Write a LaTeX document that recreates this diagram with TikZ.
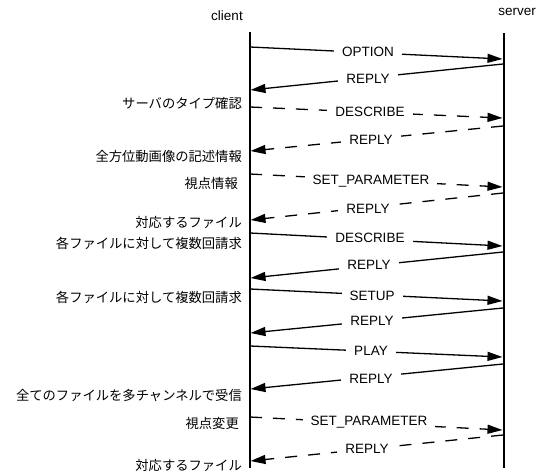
\documentclass[tikz,border=0pt]{standalone}
\usepackage{fontspec}
\setmainfont{Liberation Sans}
\newfontfamily\jpfont{Noto Sans CJK JP}
\usetikzlibrary{arrows.meta}
\begin{document}
\begin{tikzpicture}[x=1pt,y=-1pt,
  life/.style={line width=2pt},
  msg/.style={line width=1.3pt,-{Triangle[length=15pt,width=9pt]}},
  dmsg/.style={msg,dash pattern=on 12pt off 11pt},
  lbl/.style={fill=white,inner xsep=8pt,inner ysep=1pt,font=\fontsize{13.5}{15}\selectfont},
  note/.style={anchor=east,inner sep=0pt,font=\jpfont\fontsize{13.3}{15}\selectfont},
  head/.style={font=\fontsize{13.5}{15}\selectfont}]
\useasboundingbox (0,0) rectangle (540,472);
% lifelines
\coordinate (ctop) at (249.5,32);
\coordinate (cbot) at (249.5,468);
\coordinate (stop) at (503.5,33);
\coordinate (sbot) at (503.5,468);
\draw[life] (ctop) -- (cbot);
\draw[life] (stop) -- (sbot);
\node[head] (client) at (227,16) {client};
\node[head] (server) at (517,12) {server};
% endpoints
\coordinate (c1) at (250,47);  \coordinate (s1) at (502.5,59);
\coordinate (s2) at (503,64);  \coordinate (c2) at (250.5,90);
\coordinate (c3) at (250,107); \coordinate (s3) at (502.5,118);
\coordinate (s4) at (503,126); \coordinate (c4) at (250.5,151);
\coordinate (c5) at (250,174); \coordinate (s5) at (502.5,187);
\coordinate (s6) at (503,193); \coordinate (c6) at (250.5,220);
\coordinate (c7) at (250,233); \coordinate (s7) at (502.5,246);
\coordinate (s8) at (503,252); \coordinate (c8) at (250.5,278);
\coordinate (c9) at (250,289); \coordinate (s9) at (502.5,301);
\coordinate (s10) at (503,308); \coordinate (c10) at (250.5,333);
\coordinate (c11) at (250,346); \coordinate (s11) at (502.5,357);
\coordinate (s12) at (503,364); \coordinate (c12) at (250.5,389);
\coordinate (c13) at (250,417); \coordinate (s13) at (502.5,430);
\coordinate (s14) at (503,435); \coordinate (c14) at (250.5,461);
% messages
\draw[msg] (c1) -- (s1);   \node[lbl] (m1) at (368,52) {OPTION};
\draw[msg] (s2) -- (c2);   \node[lbl] (m2) at (368,79) {REPLY};
\draw[dmsg] (c3) -- (s3);  \node[lbl] (m3) at (370,112) {DESCRIBE};
\draw[dmsg] (s4) -- (c4);  \node[lbl] (m4) at (371,140) {REPLY};
\draw[dmsg] (c5) -- (s5);  \node[lbl] (m5) at (371,181) {SET\_PARAMETER};
\draw[dmsg] (s6) -- (c6);  \node[lbl] (m6) at (368,209) {REPLY};
\draw[msg] (c7) -- (s7);   \node[lbl] (m7) at (370,238) {DESCRIBE};
\draw[msg] (s8) -- (c8);   \node[lbl] (m8) at (369,265) {REPLY};
\draw[msg] (c9) -- (s9);   \node[lbl] (m9) at (372,296) {SETUP};
\draw[msg] (s10) -- (c10); \node[lbl] (m10) at (372,321) {REPLY};
\draw[msg] (c11) -- (s11); \node[lbl] (m11) at (371,351) {PLAY};
\draw[msg] (s12) -- (c12); \node[lbl] (m12) at (371,379) {REPLY};
\draw[dmsg] (c13) -- (s13); \node[lbl] (m13) at (369,422) {SET\_PARAMETER};
\draw[dmsg] (s14) -- (c14); \node[lbl] (m14) at (367,449) {REPLY};
% notes
\node[note] (n1) at (242,103) {サーバのタイプ確認};
\node[note] (n2) at (242,156) {全方位動画像の記述情報};
\node[note] (n3) at (238,183) {視点情報};
\node[note] (n4) at (242,222) {対応するファイル};
\node[note] (n5) at (242,243) {各ファイルに対して複数回請求};
\node[note] (n6) at (242,297) {各ファイルに対して複数回請求};
\node[note] (n7) at (242,395) {全てのファイルを多チャンネルで受信};
\node[note] (n8) at (239,423) {視点変更};
\node[note] (n9) at (242,465) {対応するファイル};
\end{tikzpicture}
\end{document}
